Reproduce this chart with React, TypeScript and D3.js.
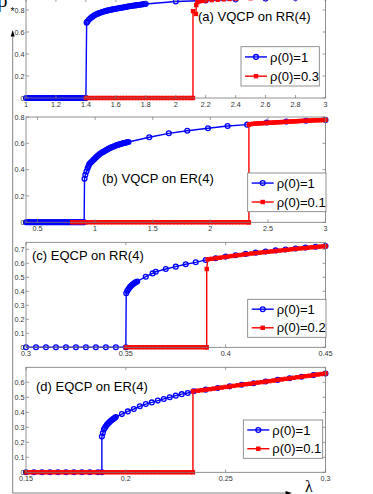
import React from 'react'
import * as d3 from 'd3'

type Pt = [number, number]

// ---- (a) VQCP on RR(4) ----
const aBlue: Pt[] = [
  [1.00, 0], [1.01, 0], [1.02, 0], [1.03, 0], [1.04, 0], [1.05, 0], [1.06, 0], [1.07, 0], [1.08, 0], [1.09, 0],
  [1.10, 0], [1.11, 0], [1.12, 0], [1.13, 0], [1.14, 0], [1.15, 0], [1.16, 0], [1.17, 0], [1.18, 0], [1.19, 0],
  [1.20, 0], [1.21, 0], [1.22, 0], [1.23, 0], [1.24, 0], [1.25, 0], [1.26, 0], [1.27, 0], [1.28, 0], [1.29, 0],
  [1.30, 0], [1.31, 0], [1.32, 0], [1.33, 0], [1.34, 0], [1.35, 0], [1.36, 0], [1.37, 0], [1.38, 0], [1.39, 0], [1.40, 0],
  [1.405, 0.685], [1.41, 0.695], [1.42, 0.712], [1.43, 0.724], [1.44, 0.735], [1.45, 0.745], [1.46, 0.754],
  [1.47, 0.761], [1.48, 0.767], [1.49, 0.772], [1.50, 0.777], [1.51, 0.782], [1.52, 0.786], [1.53, 0.790],
  [1.54, 0.794], [1.55, 0.797], [1.56, 0.800], [1.57, 0.803], [1.58, 0.806], [1.59, 0.809], [1.60, 0.811],
  [1.61, 0.814], [1.62, 0.816], [1.63, 0.819], [1.64, 0.821], [1.65, 0.824], [1.66, 0.826], [1.67, 0.829],
  [1.68, 0.831], [1.69, 0.834], [1.70, 0.836], [1.71, 0.838], [1.72, 0.840], [1.73, 0.842], [1.74, 0.844],
  [1.75, 0.846], [1.76, 0.848], [1.77, 0.850], [1.78, 0.852], [1.79, 0.854], [1.80, 0.855],
  [2.00, 0.877], [2.20, 0.887], [2.40, 0.896], [2.60, 0.904], [2.80, 0.911], [3.00, 0.917],
]
const aRed: Pt[] = [
  [1.40, 0], [1.42, 0], [1.44, 0], [1.46, 0], [1.48, 0], [1.50, 0], [1.52, 0], [1.54, 0], [1.56, 0], [1.58, 0],
  [1.60, 0], [1.62, 0], [1.64, 0], [1.66, 0], [1.68, 0], [1.70, 0], [1.72, 0], [1.74, 0], [1.76, 0], [1.78, 0],
  [1.80, 0], [1.82, 0], [1.84, 0], [1.86, 0], [1.88, 0], [1.90, 0], [1.92, 0], [1.94, 0], [1.96, 0], [1.98, 0],
  [2.00, 0], [2.02, 0], [2.04, 0], [2.06, 0], [2.08, 0], [2.10, 0], [2.115, 0],
  [2.115, 0.79], [2.135, 0.764], [2.137, 0.845], [2.145, 0.872], [2.16, 0.879], [2.18, 0.883], [2.20, 0.886],
  [2.24, 0.890], [2.28, 0.894], [2.32, 0.897], [2.36, 0.900], [2.40, 0.903], [2.50, 0.907], [2.60, 0.910],
  [2.80, 0.915], [3.00, 0.920],
]

// ---- (b) VQCP on ER(4) ----
const bBlue: Pt[] = [
  [0.40, 0], [0.41, 0], [0.42, 0], [0.43, 0], [0.44, 0], [0.45, 0], [0.46, 0], [0.47, 0], [0.48, 0], [0.49, 0],
  [0.50, 0], [0.51, 0], [0.52, 0], [0.53, 0], [0.54, 0], [0.55, 0], [0.56, 0], [0.57, 0], [0.58, 0], [0.59, 0],
  [0.60, 0], [0.61, 0], [0.62, 0], [0.63, 0], [0.64, 0], [0.65, 0], [0.66, 0], [0.67, 0], [0.68, 0], [0.69, 0],
  [0.70, 0], [0.71, 0], [0.72, 0], [0.73, 0], [0.74, 0], [0.75, 0], [0.76, 0], [0.77, 0], [0.78, 0], [0.79, 0],
  [0.80, 0], [0.81, 0], [0.82, 0], [0.83, 0], [0.84, 0], [0.85, 0], [0.86, 0], [0.87, 0], [0.88, 0], [0.89, 0],
  [0.90, 0], [0.905, 0],
  [0.908, 0.33], [0.915, 0.36], [0.925, 0.385], [0.935, 0.41], [0.943, 0.428], [0.95, 0.442], [0.96, 0.452],
  [0.97, 0.46], [0.98, 0.469], [0.99, 0.478], [1.00, 0.487], [1.01, 0.495], [1.02, 0.503], [1.03, 0.51],
  [1.04, 0.518], [1.05, 0.525], [1.06, 0.530], [1.07, 0.535], [1.08, 0.540], [1.09, 0.545], [1.10, 0.550],
  [1.11, 0.555], [1.12, 0.560], [1.13, 0.565], [1.14, 0.569], [1.15, 0.572], [1.16, 0.576], [1.17, 0.579],
  [1.18, 0.583], [1.19, 0.586], [1.20, 0.589], [1.21, 0.592], [1.22, 0.595], [1.23, 0.597], [1.24, 0.600],
  [1.25, 0.602], [1.26, 0.604], [1.27, 0.606], [1.28, 0.608], [1.29, 0.610],
  [1.47, 0.646], [1.64, 0.676], [1.80, 0.696], [1.98, 0.714], [2.15, 0.732], [2.32, 0.742], [2.49, 0.758],
  [2.66, 0.765], [2.83, 0.772], [3.00, 0.777],
]
const bRed: Pt[] = [
  [0.80, 0], [0.83, 0], [0.86, 0], [0.89, 0], [0.92, 0], [0.95, 0], [0.98, 0], [1.01, 0], [1.04, 0], [1.07, 0],
  [1.10, 0], [1.13, 0], [1.16, 0], [1.19, 0], [1.22, 0], [1.25, 0], [1.28, 0], [1.31, 0], [1.34, 0], [1.37, 0],
  [1.40, 0], [1.43, 0], [1.46, 0], [1.49, 0], [1.52, 0], [1.55, 0], [1.58, 0], [1.61, 0], [1.64, 0], [1.67, 0],
  [1.70, 0], [1.73, 0], [1.76, 0], [1.79, 0], [1.82, 0], [1.85, 0], [1.88, 0], [1.91, 0], [1.94, 0], [1.97, 0],
  [2.00, 0], [2.03, 0], [2.06, 0], [2.09, 0], [2.12, 0], [2.15, 0], [2.18, 0], [2.21, 0], [2.24, 0], [2.27, 0],
  [2.30, 0], [2.33, 0], [2.335, 0],
  [2.335, 0.742], [2.35, 0.746], [2.37, 0.748], [2.39, 0.750], [2.41, 0.751], [2.43, 0.752], [2.45, 0.753],
  [2.47, 0.754], [2.49, 0.755], [2.51, 0.756], [2.53, 0.757], [2.55, 0.758], [2.57, 0.759], [2.59, 0.760],
  [2.61, 0.761], [2.63, 0.762], [2.65, 0.763], [2.67, 0.764], [2.69, 0.765], [2.71, 0.766], [2.73, 0.767],
  [2.75, 0.768], [2.77, 0.769], [2.79, 0.770], [2.81, 0.771], [2.83, 0.771], [2.85, 0.772], [2.87, 0.773],
  [2.89, 0.774], [2.91, 0.775], [2.93, 0.775], [2.95, 0.776], [2.97, 0.777], [2.99, 0.778], [3.00, 0.778],
]

// ---- (c) EQCP on RR(4) ----
const cBlue: Pt[] = [
  [0.300, 0], [0.305, 0], [0.310, 0], [0.315, 0], [0.320, 0], [0.325, 0], [0.330, 0], [0.335, 0], [0.340, 0],
  [0.345, 0], [0.350, 0],
  [0.3502, 0.386], [0.3507, 0.402], [0.3512, 0.412], [0.3517, 0.424], [0.3522, 0.433], [0.3527, 0.440],
  [0.3532, 0.446], [0.3537, 0.452], [0.3542, 0.457], [0.3547, 0.462], [0.3552, 0.466], [0.3557, 0.470],
  [0.360, 0.504], [0.3634, 0.528], [0.365, 0.540], [0.370, 0.559], [0.375, 0.576], [0.380, 0.593], [0.385, 0.607],
  [0.390, 0.624], [0.395, 0.636], [0.400, 0.648], [0.405, 0.658], [0.410, 0.667], [0.415, 0.676], [0.420, 0.684],
  [0.425, 0.692], [0.430, 0.699], [0.435, 0.706], [0.440, 0.712], [0.445, 0.718], [0.450, 0.724],
]
const cRed: Pt[] = [
  [0.350, 0], [0.352, 0], [0.354, 0], [0.356, 0], [0.358, 0], [0.360, 0], [0.362, 0], [0.364, 0], [0.366, 0],
  [0.368, 0], [0.370, 0], [0.372, 0], [0.374, 0], [0.376, 0], [0.378, 0], [0.380, 0], [0.382, 0], [0.384, 0],
  [0.386, 0], [0.388, 0], [0.390, 0], [0.3905, 0],
  [0.3905, 0.559], [0.391, 0.628], [0.393, 0.632], [0.395, 0.636], [0.397, 0.640], [0.399, 0.644], [0.401, 0.648],
  [0.403, 0.652], [0.405, 0.656], [0.407, 0.659], [0.409, 0.663], [0.411, 0.666], [0.413, 0.670], [0.415, 0.673],
  [0.417, 0.676], [0.419, 0.679], [0.421, 0.682], [0.423, 0.685], [0.425, 0.688], [0.427, 0.691], [0.429, 0.694],
  [0.431, 0.697], [0.433, 0.700], [0.435, 0.703], [0.437, 0.706], [0.439, 0.708], [0.441, 0.711], [0.443, 0.714],
  [0.445, 0.716], [0.447, 0.719], [0.449, 0.721], [0.450, 0.722],
]

// ---- (d) EQCP on ER(4) ----
const dBlue: Pt[] = [
  [0.150, 0], [0.154, 0], [0.158, 0], [0.162, 0], [0.166, 0], [0.170, 0], [0.174, 0], [0.178, 0], [0.182, 0],
  [0.186, 0], [0.188, 0],
  [0.188, 0.238], [0.1885, 0.262], [0.189, 0.285], [0.1895, 0.296], [0.190, 0.307], [0.1905, 0.317], [0.191, 0.324],
  [0.1915, 0.331], [0.192, 0.337], [0.1925, 0.343], [0.193, 0.349], [0.1935, 0.354], [0.194, 0.359], [0.1945, 0.364],
  [0.195, 0.368], [0.198, 0.388], [0.201, 0.406], [0.204, 0.422], [0.207, 0.440], [0.210, 0.455], [0.213, 0.466],
  [0.216, 0.478], [0.219, 0.489], [0.222, 0.500], [0.225, 0.511], [0.228, 0.521], [0.231, 0.529], [0.234, 0.540],
  [0.240, 0.551], [0.246, 0.562], [0.252, 0.573], [0.258, 0.584], [0.264, 0.594], [0.270, 0.605], [0.276, 0.616],
  [0.282, 0.627], [0.288, 0.637], [0.294, 0.648], [0.300, 0.658],
]
const dRed: Pt[] = [
  [0.150, 0], [0.152, 0], [0.154, 0], [0.156, 0], [0.158, 0], [0.160, 0], [0.162, 0], [0.164, 0], [0.166, 0],
  [0.168, 0], [0.170, 0], [0.172, 0], [0.174, 0], [0.176, 0], [0.178, 0], [0.180, 0], [0.182, 0], [0.184, 0],
  [0.186, 0], [0.188, 0], [0.190, 0], [0.192, 0], [0.194, 0], [0.196, 0], [0.198, 0], [0.200, 0], [0.202, 0],
  [0.204, 0], [0.206, 0], [0.208, 0], [0.210, 0], [0.212, 0], [0.214, 0], [0.216, 0], [0.218, 0], [0.220, 0],
  [0.222, 0], [0.224, 0], [0.226, 0], [0.228, 0], [0.230, 0], [0.232, 0], [0.2336, 0],
  [0.2336, 0.540], [0.236, 0.544], [0.238, 0.547], [0.240, 0.551], [0.242, 0.554], [0.244, 0.558], [0.246, 0.562],
  [0.248, 0.565], [0.250, 0.569], [0.252, 0.572], [0.254, 0.576], [0.256, 0.580], [0.258, 0.583], [0.260, 0.587],
  [0.262, 0.590], [0.264, 0.594], [0.266, 0.598], [0.268, 0.601], [0.270, 0.605], [0.272, 0.608], [0.274, 0.612],
  [0.276, 0.616], [0.278, 0.619], [0.280, 0.623], [0.282, 0.626], [0.284, 0.630], [0.286, 0.634], [0.288, 0.637],
  [0.290, 0.641], [0.292, 0.644], [0.294, 0.648], [0.296, 0.652], [0.298, 0.655], [0.300, 0.659],
]

// tick values
const aXTicks = [1, 1.2, 1.4, 1.6, 1.8, 2, 2.2, 2.4, 2.6, 2.8, 3]
const aYTicks = [0, 0.2, 0.4, 0.6, 0.8]
const bXTicks = [0.5, 1, 1.5, 2, 2.5, 3]
const bYTicks = [0, 0.2, 0.4, 0.6, 0.8]
const cXTicks = [0.3, 0.35, 0.4, 0.45]
const cYTicks = [0, 0.1, 0.2, 0.3, 0.4, 0.5, 0.6, 0.7]
const dXTicks = [0.15, 0.2, 0.25, 0.3]
const dYTicks = [0, 0.1, 0.2, 0.3, 0.4, 0.5, 0.6]

const titles = ['(a) VQCP on RR(4)', '(b) VQCP on ER(4)', '(c) EQCP on RR(4)', '(d) EQCP on ER(4)']
const blueLabel = 'ρ(0)=1'
const redLabels = ['ρ(0)=0.3', 'ρ(0)=0.1', 'ρ(0)=0.2', 'ρ(0)=0.1']

const BLUE = '#0000ff'
const RED = '#ff0000'
const GREY = '#777'
const SANS = '"Liberation Sans", Arial, sans-serif'
const X0 = 26
const X1 = 325.5

const panels = [
  { xd: [1, 3], yd: [0, 0.9], top: -1, bottom: 98, xt: aXTicks, yt: aYTicks, blue: aBlue, red: aRed,
    title: titles[0], tx: 198, ty: 20.5, leg: [241, 46.7, 78.3, 39.3], red_l: redLabels[0] },
  { xd: [0.4, 3], yd: [0, 0.8], top: 117, bottom: 222.3, xt: bXTicks, yt: bYTicks, blue: bBlue, red: bRed,
    title: titles[1], tx: 102, ty: 182.5, leg: [247.7, 173, 78.3, 38.7], red_l: redLabels[1] },
  { xd: [0.3, 0.45], yd: [0, 0.75], top: 242.3, bottom: 347.3, xt: cXTicks, yt: cYTicks, blue: cBlue, red: cRed,
    title: titles[2], tx: 32, ty: 259.5, leg: [247.7, 299.3, 78.3, 38], red_l: redLabels[2] },
  { xd: [0.15, 0.3], yd: [0, 0.7], top: 367.3, bottom: 472.3, xt: dXTicks, yt: dYTicks, blue: dBlue, red: dRed,
    title: titles[3], tx: 36, ty: 390.5, leg: [243.3, 420, 79.4, 38.3], red_l: redLabels[3] },
]

function Circle({ cx, cy }: { cx: number; cy: number }) {
  return <circle cx={cx} cy={cy} r={2.4} fill="none" stroke={BLUE} strokeWidth={1.3} />
}
function Square({ cx, cy }: { cx: number; cy: number }) {
  return <rect x={cx - 1.7} y={cy - 1.7} width={3.4} height={3.4} fill={RED} stroke={RED} strokeWidth={1} />
}

function Panel({ p }: { p: typeof panels[number] }) {
  const x = d3.scaleLinear().domain(p.xd).range([X0, X1])
  const y = d3.scaleLinear().domain(p.yd).range([p.bottom, p.top])
  const line = d3.line<Pt>().x(d => x(d[0])).y(d => y(d[1]))
  const [lx, ly, lw, lh] = p.leg
  const r1 = ly + lh * 0.26
  const r2 = ly + lh * 0.75

  return (
    <g>
      <path d={line(p.blue) || ''} fill="none" stroke={BLUE} strokeWidth={1.4} />
      {p.blue.map((d, i) => <Circle key={i} cx={x(d[0])} cy={y(d[1])} />)}
      <path d={line(p.red) || ''} fill="none" stroke={RED} strokeWidth={1.4} />
      {p.red.map((d, i) => <Square key={i} cx={x(d[0])} cy={y(d[1])} />)}

      <rect x={X0} y={p.top} width={X1 - X0} height={p.bottom - p.top} fill="none" stroke={GREY} strokeWidth={0.8} />
      {p.xt.map(t => (
        <g key={'x' + t}>
          <line x1={x(t)} x2={x(t)} y1={p.bottom} y2={p.bottom - 3} stroke={GREY} strokeWidth={0.7} />
          <line x1={x(t)} x2={x(t)} y1={p.top} y2={p.top + 3} stroke={GREY} strokeWidth={0.7} />
          <text x={x(t)} y={p.bottom + 9} fontSize={7.2} fill="#333" textAnchor="middle" fontFamily={SANS}>{String(t)}</text>
        </g>
      ))}
      {p.yt.map(t => (
        <g key={'y' + t}>
          <line x1={X0} x2={X0 + 3} y1={y(t)} y2={y(t)} stroke={GREY} strokeWidth={0.7} />
          <line x1={X1} x2={X1 - 3} y1={y(t)} y2={y(t)} stroke={GREY} strokeWidth={0.7} />
          <text x={24.5} y={y(t) + 2.6} fontSize={7.2} fill="#333" textAnchor="end" fontFamily={SANS}>{String(t)}</text>
        </g>
      ))}

      <text x={p.tx} y={p.ty} fontSize={13} fontFamily={SANS} fill="#000">{p.title}</text>

      <rect x={lx} y={ly} width={lw} height={lh} fill="#fff" stroke={GREY} strokeWidth={0.8} />
      <line x1={lx + 4} x2={lx + 26} y1={r1} y2={r1} stroke={BLUE} strokeWidth={1.4} />
      <Circle cx={lx + 15} cy={r1} />
      <text x={lx + 29} y={r1 + 4.6} fontSize={13} fontFamily={SANS}>{blueLabel}</text>
      <line x1={lx + 4} x2={lx + 26} y1={r2} y2={r2} stroke={RED} strokeWidth={1.4} />
      <Square cx={lx + 15} cy={r2} />
      <text x={lx + 29} y={r2 + 4.6} fontSize={13} fontFamily={SANS}>{p.red_l}</text>
    </g>
  )
}

export default function App() {
  return (
    <svg width={373} height={494} style={{ position: 'absolute', left: 0, top: 0, background: '#fff' }}>
      {panels.map((p, i) => <Panel key={i} p={p} />)}

      {/* outer axes with arrows */}
      <line x1={12.7} y1={493} x2={12.7} y2={34} stroke={GREY} strokeWidth={0.9} />
      <polygon points="12.7,30 10.7,36.5 14.7,36.5" fill="#000" />
      <line x1={12.7} y1={493} x2={286} y2={493} stroke={GREY} strokeWidth={0.9} />
      <polygon points="292,493 285.5,491 285.5,495" fill="#000" />
      <text x={-2.5} y={7} fontSize={20} fontFamily='"Liberation Serif", serif'>ρ</text>
      <text x={12.5} y={15} fontSize={10} textAnchor="middle" fontFamily={SANS}>*</text>
      <text x={305} y={492} fontSize={16} fontFamily='"Liberation Serif", serif'>λ</text>
    </svg>
  )
}
